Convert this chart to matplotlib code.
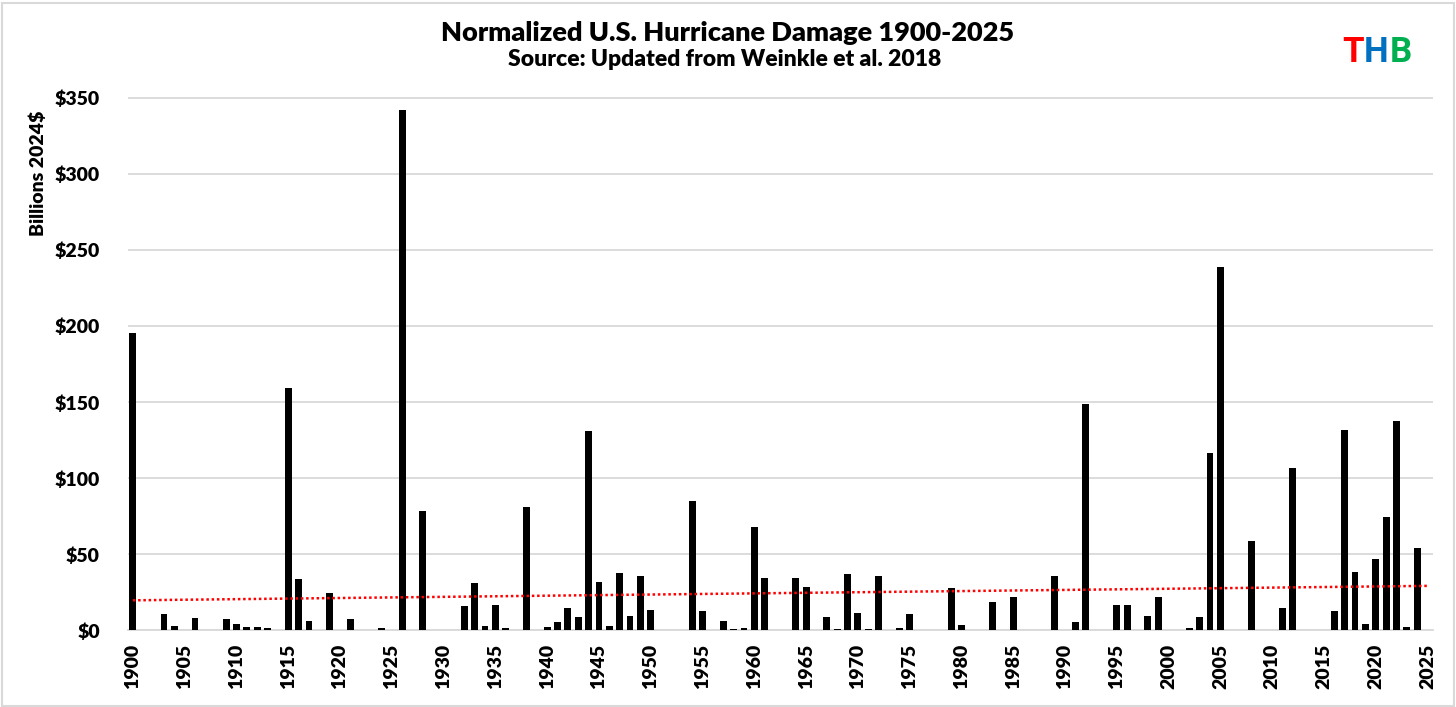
import numpy as np
import matplotlib
matplotlib.use("Agg")
import matplotlib.pyplot as plt
from matplotlib.patches import Rectangle

# ---------------- data ----------------
years = list(range(1900, 2026))
damage = [
    195.4, 0, 0, 10.5, 2.9, 0, 8.1, 0, 0, 7.5,        # 1900-1909
    4.2, 2.2, 2.0, 1.5, 0, 159.4, 34.0, 5.9, 0, 24.3,  # 1910-1919
    0, 7.2, 0, 0, 1.5, 0, 342.3, 0, 78.5, 0,           # 1920-1929
    0, 0, 16.2, 30.9, 2.9, 16.9, 1.5, 0, 81.1, 0,      # 1930-1939
    2.2, 5.3, 14.9, 8.6, 131.4, 31.6, 2.9, 37.9, 9.2, 36.0,  # 1940-1949
    13.2, 0, 0, 0, 84.9, 12.5, 0, 5.9, 1.1, 1.5,       # 1950-1959
    67.8, 34.6, 0, 0, 34.2, 28.3, 0, 8.6, 1.1, 37.3,   # 1960-1969
    11.2, 1.1, 36.0, 0, 1.5, 10.5, 0, 0, 0, 27.6,      # 1970-1979
    3.3, 0, 0, 18.9, 0, 21.9, 0, 0, 0, 36.0,           # 1980-1989
    0, 5.3, 148.7, 0, 0, 16.9, 16.9, 0, 9.2, 21.9,     # 1990-1999
    0, 0, 1.5, 8.6, 116.9, 238.7, 0, 0, 58.8, 0,       # 2000-2009
    0, 14.9, 106.6, 0, 0, 0, 12.5, 132.0, 38.6, 4.2,   # 2010-2019
    46.7, 74.8, 137.7, 2.2, 54.4, 0,                   # 2020-2025
]
tick_years = list(range(1900, 2026, 5))
y_ticks = [0, 50, 100, 150, 200, 250, 300, 350]
y_tick_labels = ["$" + str(v) for v in y_ticks]

title = "Normalized U.S. Hurricane Damage 1900-2025"
subtitle = "Source: Updated from Weinkle et al. 2018"
ylabel = "Billions 2024$"
logo_letters = ["T", "H", "B"]
logo_colors = ["#ff0000", "#0070c0", "#00b050"]

# ---------------- figure ----------------
FONT = ["Lato", "DejaVu Sans"]
plt.rcParams["font.family"] = FONT
WEIGHT = "heavy"

W, H = 1456, 707
fig = plt.figure(figsize=(W / 100, H / 100), dpi=100)
fig.patch.set_facecolor("white")

left, right = 127.7 / W, 1432.7 / W
bottom, top = 1 - 630.3 / H, 1 - 97.3 / H
ax = fig.add_axes([left, bottom, right - left, top - bottom])

x = np.arange(len(years))
ax.bar(x, damage, width=0.66, color="black", zorder=3)

# linear trend line fitted to the series (Excel-style trendline)
coef = np.polyfit(x, damage, 1)
trend = np.polyval(coef, x)
ax.plot(x, trend, color="#ff0000", lw=1.8, linestyle=(0, (1, 1.1)),
        dash_capstyle="butt", zorder=4)

ax.set_xlim(-0.5, len(years) - 0.5)
ax.set_ylim(0, 350.6)

ax.set_yticks(y_ticks)
ax.set_yticklabels(y_tick_labels, fontsize=14, fontweight=WEIGHT)
tick_pos = [years.index(y) for y in tick_years]
ax.set_xticks(tick_pos)
ax.set_xticklabels([str(y) for y in tick_years], rotation=90,
                   fontsize=14, fontweight=WEIGHT)
ax.tick_params(axis="both", length=0)
ax.tick_params(axis="y", pad=20)
ax.tick_params(axis="x", pad=10)

ax.grid(axis="y", color="#d9d9d9", lw=1.3, zorder=0)
ax.set_axisbelow(True)
for s in ["top", "right", "left"]:
    ax.spines[s].set_visible(False)
ax.spines["bottom"].set_color("#d9d9d9")
ax.spines["bottom"].set_linewidth(1.3)

# y label (placed near the top of the axis as in the original)
fig.text(38 / W, 1 - 173 / H, ylabel, rotation=90, ha="center", va="center",
         fontsize=14, fontweight=WEIGHT)

# titles
fig.text(0.5, 1 - 33 / H, title, ha="center", va="center",
         fontsize=19.5, fontweight=WEIGHT)
fig.text(0.498, 1 - 60 / H, subtitle, ha="center", va="center",
         fontsize=16.5, fontweight=WEIGHT)

# THB logo: letters placed side by side using measured widths
renderer = fig.canvas.get_renderer()
cur_x = 1342.0
for ch, col in zip(logo_letters, logo_colors):
    t = fig.text(cur_x / W, 1 - 53 / H, ch, ha="left", va="center", color=col,
                 fontsize=25, fontweight="bold", family=["Roboto", "DejaVu Sans"])
    bb = t.get_window_extent(renderer=renderer)
    cur_x += bb.width + 0.5

# chart border
fig.patches.append(Rectangle((1.5 / W, 1.5 / H), (W - 4) / W, (H - 4) / H,
                             transform=fig.transFigure, fill=False,
                             edgecolor="#d9d9d9", lw=1.5))

fig.savefig("out.png", dpi=100, facecolor="white")
